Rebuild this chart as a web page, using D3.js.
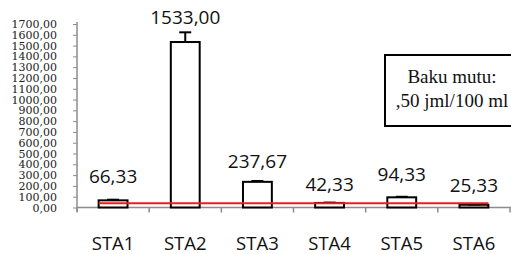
<!DOCTYPE html>
<html>
<head>
<meta charset="utf-8">
<script src="https://cdn.jsdelivr.net/npm/d3@7"></script>
<style>
  body { margin: 0; background: #fff; }
  svg { display: block; }
</style>
</head>
<body>
<div id="chart"></div>
<script>
// chart values
const categories = ['STA1', 'STA2', 'STA3', 'STA4', 'STA5', 'STA6'];
const values = [66.33, 1533.00, 237.67, 42.33, 94.33, 25.33];
const errors = [6, 90, 8, 3, 5, 3];
const labelValues = [227, 1700, 366, 153, 245, 144]; // where Excel put the data labels
const yTicks = d3.range(0, 1701, 100);
const bakuMutu = 40;
const noteLines = ['Baku mutu:', ',50 jml/100 ml'];

const width = 511, height = 254;
const margin = { top: 24, right: 1, bottom: 46.5, left: 77 };

const fmt = v => d3.format('.2f')(v).replace('.', ',');

const svg = d3.select('#chart').append('svg')
    .attr('width', width)
    .attr('height', height);

const x = d3.scaleBand()
    .domain(categories)
    .range([margin.left, width - margin.right])
    .paddingInner(0.6)
    .paddingOuter(0.3);

const y = d3.scaleLinear()
    .domain([0, 1700])
    .range([height - margin.bottom, margin.top]);

const band = x.step();

// y axis
const yAxis = svg.append('g')
    .attr('transform', `translate(${margin.left},0)`)
    .call(d3.axisLeft(y).tickValues(yTicks).tickSize(4).tickFormat(fmt));
yAxis.select('.domain').attr('stroke', '#8c8c8c').attr('stroke-width', 1.5)
    .attr('d', `M0,${y(1700) - 2}V${y(0) + 4}`);
yAxis.selectAll('.tick line').attr('stroke', '#8c8c8c');
yAxis.selectAll('.tick text')
    .attr('x', -20)
    .attr('font-family', 'DejaVu Serif, serif')
    .attr('font-size', 11)
    .attr('fill', '#222');

// x axis
const xAxis = svg.append('g')
    .attr('transform', `translate(0,${y(0)})`);
xAxis.append('line')
    .attr('x1', margin.left).attr('x2', width)
    .attr('stroke', '#8c8c8c')
    .attr('stroke-width', 1.5);
xAxis.selectAll('.tk')
    .data(d3.range(categories.length + 1))
    .join('line')
    .attr('class', 'tk')
    .attr('x1', i => x.range()[0] + i * band)
    .attr('x2', i => x.range()[0] + i * band)
    .attr('y1', 0).attr('y2', 5)
    .attr('stroke', '#8c8c8c')
    .attr('stroke-width', 1.5);
xAxis.selectAll('.cat')
    .data(categories)
    .join('text')
    .attr('class', 'cat')
    .attr('x', d => x(d) + x.bandwidth() / 2)
    .attr('y', 42.5)
    .attr('text-anchor', 'middle')
    .attr('font-family', 'Open Sans, sans-serif')
    .attr('font-size', 18.5)
    .attr('fill', '#111')
    .text(d => d);

// bars
const data = categories.map((c, i) => ({ cat: c, value: values[i], err: errors[i], lab: labelValues[i] }));

svg.append('g').selectAll('rect')
    .data(data)
    .join('rect')
    .attr('x', d => x(d.cat))
    .attr('y', d => y(d.value))
    .attr('width', x.bandwidth())
    .attr('height', d => y(0) - y(d.value))
    .attr('fill', '#fff')
    .attr('stroke', '#000')
    .attr('stroke-width', 2);

// error bars
const eb = svg.append('g').attr('stroke', '#000').attr('stroke-width', 2);
eb.selectAll('.v')
    .data(data)
    .join('line')
    .attr('class', 'v')
    .attr('x1', d => x(d.cat) + x.bandwidth() / 2)
    .attr('x2', d => x(d.cat) + x.bandwidth() / 2)
    .attr('y1', d => y(d.value))
    .attr('y2', d => y(d.value + d.err));
eb.selectAll('.c')
    .data(data)
    .join('line')
    .attr('class', 'c')
    .attr('x1', d => x(d.cat) + x.bandwidth() / 2 - 6)
    .attr('x2', d => x(d.cat) + x.bandwidth() / 2 + 6)
    .attr('y1', d => y(d.value + d.err))
    .attr('y2', d => y(d.value + d.err));

// baku mutu line
svg.append('line')
    .attr('x1', x(categories[0]))
    .attr('x2', x(categories[categories.length - 1]) + x.bandwidth())
    .attr('y1', y(bakuMutu))
    .attr('y2', y(bakuMutu))
    .attr('stroke', '#e8201c')
    .attr('stroke-width', 2);

// data labels
svg.append('g').selectAll('text')
    .data(data)
    .join('text')
    .attr('x', d => x(d.cat) + x.bandwidth() / 2)
    .attr('y', d => y(d.lab))
    .attr('text-anchor', 'middle')
    .attr('font-family', 'Open Sans, sans-serif')
    .attr('font-size', 19)
    .attr('fill', '#111')
    .text(d => fmt(d.value));

// note box
const note = svg.append('g');
note.append('rect')
    .attr('x', 385).attr('y', 55)
    .attr('width', 140).attr('height', 71)
    .attr('fill', '#fff')
    .attr('stroke', '#000')
    .attr('stroke-width', 2);
note.selectAll('text')
    .data(noteLines)
    .join('text')
    .attr('x', 452)
    .attr('y', (d, i) => 83 + i * 24)
    .attr('text-anchor', 'middle')
    .attr('font-family', 'Liberation Serif, DejaVu Serif, serif')
    .attr('font-size', 19)
    .attr('fill', '#111')
    .text(d => d);
</script>
</body>
</html>
